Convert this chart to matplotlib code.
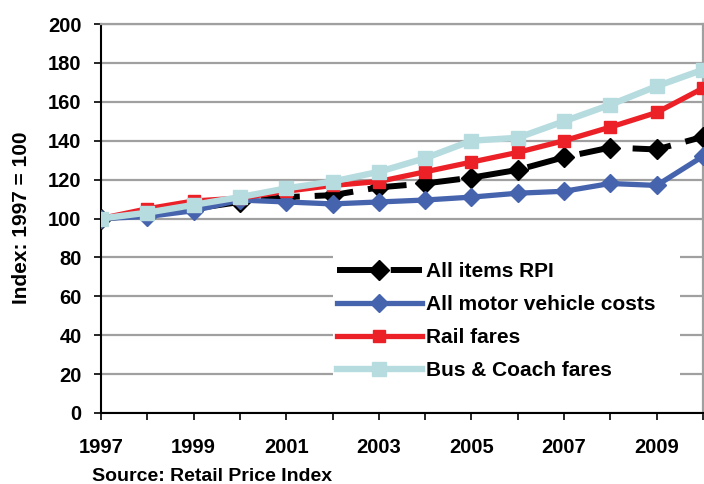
import matplotlib
matplotlib.use("Agg")
import matplotlib.pyplot as plt
from matplotlib.patches import Rectangle

plt.rcParams['font.family'] = ['Liberation Sans', 'DejaVu Sans']
plt.rcParams['font.weight'] = 'bold'

years = list(range(1997, 2011))
rpi = [100, 102, 105, 108.5, 111, 112, 116, 118, 121, 125, 131.5, 136.5, 135.5, 142]
motor = [100, 101, 104, 109.5, 108.5, 107.5, 108.5, 109.5, 111, 113, 114, 118, 117, 132]
rail = [100, 105, 109, 110.5, 114, 117, 119, 124, 129, 134, 140, 147, 154.5, 167]
bus = [100, 103, 107, 111, 115.5, 119, 124, 131, 140, 141.5, 150, 158.5, 168, 176.5]
labels = ['All items RPI', 'All motor vehicle costs', 'Rail fares', 'Bus & Coach fares']
yticks = list(range(0, 201, 20))
xlabel_years = [1997, 1999, 2001, 2003, 2005, 2007, 2009]

W, H = 704, 484
fig = plt.figure(figsize=(W / 100, H / 100), dpi=100)
ax = fig.add_axes([101 / W, 1 - 413 / H, (703 - 101) / W, (413 - 24) / H])

ax.plot(years, rpi, color='black', lw=4.3, marker='D', ms=10, linestyle=(0, (6.5, 2.5)), label=labels[0], zorder=3)
ax.plot(years, motor, color='#4664AE', lw=3.8, marker='D', ms=9.5, label=labels[1], zorder=4)
ax.plot(years, rail, color='#EC2027', lw=3.8, marker='s', ms=9, label=labels[2], zorder=5)
ax.plot(years, bus, color='#B7DCE0', lw=4.6, marker='s', ms=10.5, label=labels[3], zorder=6)

ax.set_xlim(1997, 2010)
ax.set_ylim(0, 200)
ax.set_yticks(yticks)
ax.set_xticks(years)
ax.set_xticklabels([str(y) if y in xlabel_years else '' for y in years])
ax.yaxis.grid(True, color='#A0A0A0', lw=1.6)
ax.set_axisbelow(True)
for s in ['top', 'right']:
    ax.spines[s].set_color('#A0A0A0')
    ax.spines[s].set_linewidth(1.6)
for s in ['left', 'bottom']:
    ax.spines[s].set_color('black')
    ax.spines[s].set_linewidth(1.5)
ax.tick_params(axis='both', direction='out', length=5, width=1.2, labelsize=14.5)
ax.tick_params(axis='x', pad=13)
ax.tick_params(axis='y', pad=9)
for t in ax.get_xticklabels() + ax.get_yticklabels():
    t.set_fontweight('bold')

fig.text(22 / W, 1 - 218 / H, 'Index: 1997 = 100', fontsize=15, fontweight='bold',
         rotation=90, ha='center', va='center')

# white legend background (covers gridlines like the reference)
ax.add_patch(Rectangle(((333 - 101) / 602, (413 - 390) / 389), (680 - 333) / 602, (390 - 250) / 389,
                       transform=ax.transAxes, facecolor='white', edgecolor='none', zorder=2))

leg = ax.legend(loc='upper left', bbox_to_anchor=(333 / W, 1 - 258 / H), bbox_transform=fig.transFigure,
                frameon=False, prop={'size': 15, 'weight': 'bold'}, handlelength=4.05, handletextpad=0.2,
                labelspacing=0.67, borderpad=0.2, borderaxespad=0)
leg.set_zorder(10)

fig.text(92 / W, 1 - 481 / H, 'Source: Retail Price Index', fontsize=14, fontweight='bold', va='baseline', ha='left')

fig.savefig('out.png', dpi=100)
